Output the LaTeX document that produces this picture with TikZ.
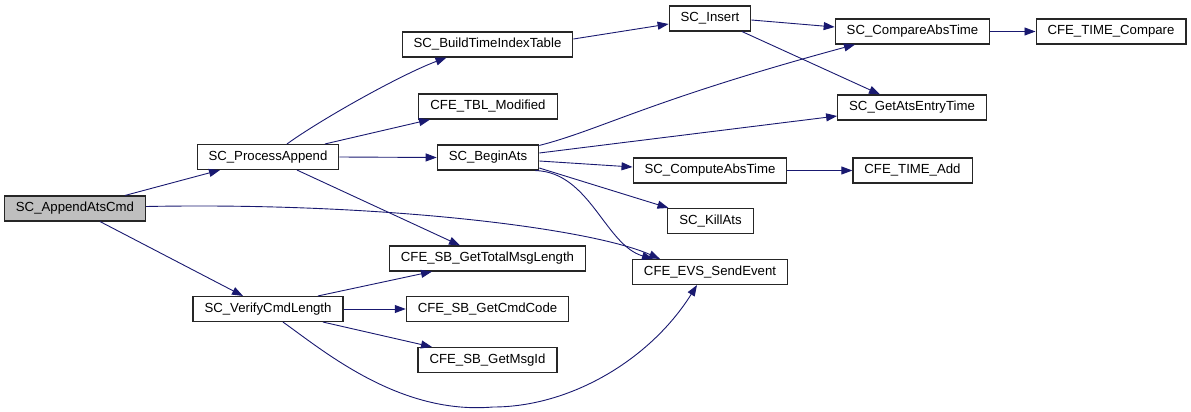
\documentclass[tikz,border=0pt]{standalone}
\usepackage{fontspec}
\setmainfont{Liberation Sans}
\usetikzlibrary{arrows.meta}
\definecolor{callblue}{RGB}{25,25,112}
\begin{document}
\begin{tikzpicture}[
  x=1pt, y=-1pt,
  fnbox/.style={draw=black!85, line width=1.1pt, fill=white, minimum height=25pt,
    inner xsep=11.5pt, inner ysep=0pt, font=\fontsize{13.2}{15}\selectfont},
  rootbox/.style={fnbox, fill=black!25},
  call/.style={draw=callblue, line width=0.9pt, -{Triangle[length=11pt,width=8pt]}}
]
\useasboundingbox (0,0) rectangle (1191,412);

% functions
\node[rootbox] (append) at (75,208.5) {SC\_AppendAtsCmd};
\node[fnbox] (proc) at (268,157) {SC\_ProcessAppend};
\node[fnbox] (verify) at (268,309) {SC\_VerifyCmdLength};
\node[fnbox] (build) at (487.5,44.5) {SC\_BuildTimeIndexTable};
\node[fnbox] (tblmod) at (488,106.5) {CFE\_TBL\_Modified};
\node[fnbox] (begin) at (488,157.5) {SC\_BeginAts};
\node[fnbox] (total) at (487.5,258.5) {CFE\_SB\_GetTotalMsgLength};
\node[fnbox] (cmdcode) at (487.5,309) {CFE\_SB\_GetCmdCode};
\node[fnbox] (msgid) at (487.5,360) {CFE\_SB\_GetMsgId};
\node[fnbox] (insert) at (710,18.5) {SC\_Insert};
\node[fnbox] (compute) at (710,170.5) {SC\_ComputeAbsTime};
\node[fnbox] (kill) at (710.5,221) {SC\_KillAts};
\node[fnbox] (evs) at (710,272) {CFE\_EVS\_SendEvent};
\node[fnbox] (compare) at (912.5,31.5) {SC\_CompareAbsTime};
\node[fnbox] (entry) at (912,107.5) {SC\_GetAtsEntryTime};
\node[fnbox] (tadd) at (912.5,170.5) {CFE\_TIME\_Add};
\node[fnbox] (tcmp) at (1111,31.5) {CFE\_TIME\_Compare};

% calls
\draw[call] ([xshift=50pt]append.north) -- ([xshift=-48pt]proc.south);
\draw[call] ([xshift=25pt]append.south) -- ([xshift=-25pt]verify.north);
\draw[call] ([yshift=2pt]append.east) .. controls (380,202) and (590,228) .. ([xshift=-50pt]evs.north);
\draw[call] ([xshift=19pt]proc.north) .. controls (320,120) and (400,75) .. ([xshift=-41pt]build.south);
\draw[call] ([xshift=57pt]proc.north) -- ([xshift=-58pt]tblmod.south);
\draw[call] (proc.east) -- (begin.west);
\draw[call] ([xshift=29pt]proc.south) -- ([xshift=-27.5pt]total.north);
\draw[call] ([yshift=5.5pt]build.east) -- ([yshift=-5.5pt]insert.west);
\draw[call] ([yshift=-1.5pt]insert.east) -- ([yshift=4.5pt]compare.west);
\draw[call] ([xshift=32pt]insert.south) -- ([xshift=-32pt]entry.north);
\draw[call] (compare.east) -- (tcmp.west);
\draw[call] ([yshift=-1pt]begin.north east) .. controls (600,130) and (650,100) .. ([xshift=-57.5pt]compare.south);
\draw[call] ([yshift=4.5pt]begin.east) -- ([yshift=-8.5pt]entry.west);
\draw[call] ([yshift=-3.5pt]begin.east) -- ([yshift=3.5pt]compute.west);
\draw[call] ([yshift=-10.5pt]begin.east) -- ([xshift=-42pt]kill.north);
\draw[call] ([xshift=-4pt]begin.south east) .. controls (590,172) and (605,245) .. ([xshift=-57pt]evs.north);
\draw[call] (compute.east) -- (tadd.west);
\draw[call] ([xshift=50pt]verify.north) -- ([xshift=-55.5pt]total.south);
\draw[call] (verify.east) -- (cmdcode.west);
\draw[call] ([xshift=55pt]verify.south) -- ([xshift=-55.5pt]msgid.north);
\draw[call] ([xshift=15pt]verify.south) .. controls (325,352) and (400,415) .. (493,407)
  .. controls (570,407) and (650,360) .. ([xshift=-13pt]evs.south);
\end{tikzpicture}
\end{document}
